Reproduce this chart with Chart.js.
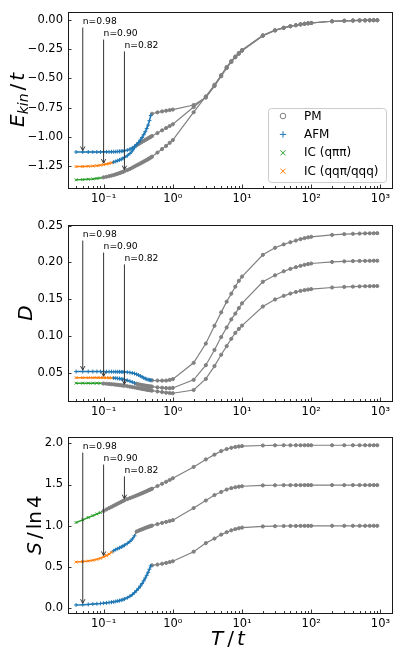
<!DOCTYPE html>
<html>
<head>
<meta charset="utf-8">
<script src="https://cdn.jsdelivr.net/npm/chart.js@4.4.0/dist/chart.umd.min.js"></script>
<style>
  html, body { margin: 0; padding: 0; background: #fff; }
  #wrap { position: relative; width: 399px; height: 657px; overflow: hidden; }
  canvas { position: absolute; left: 0; }
</style>
</head>
<body>
<div id="wrap">
  <canvas id="ekin" width="399" height="213" style="top:0"></canvas>
  <canvas id="dbl" width="399" height="212" style="top:213px"></canvas>
  <canvas id="ent" width="399" height="232" style="top:425px"></canvas>
</div>
<script>
// temperatures T/t, shared by all curves
const temps = [0.04,0.05,0.06,0.07,0.08,0.09,0.10,0.11,0.12,0.13,0.14,0.15,0.16,0.17,0.18,0.19,0.20,
  0.22,0.24,0.26,0.28,0.30,0.32,0.34,0.36,0.38,0.40,0.42,0.44,0.46,0.48,0.50,
  0.6,0.7,0.8,0.9,1,
  2,3,4,5,6,7,8,9,10,
  20,30,40,50,60,70,80,90,100,
  200,300,400,500,600,700,800,900];

// kinetic energy E_kin/t
const ekin098 = [-1.130,-1.130,-1.130,-1.130,-1.130,-1.130,-1.129,-1.129,-1.129,-1.128,-1.128,-1.127,-1.126,-1.125,-1.124,-1.122,-1.120,
  -1.114,-1.106,-1.095,-1.082,-1.066,-1.048,-1.028,-1.006,-0.982,-0.957,-0.930,-0.900,-0.862,-0.818,-0.803,
  -0.791,-0.783,-0.777,-0.772,-0.767,
  -0.728,-0.665,-0.566,-0.482,-0.412,-0.360,-0.320,-0.290,-0.264,
  -0.136,-0.091,-0.069,-0.055,-0.046,-0.039,-0.034,-0.030,-0.027,
  -0.012,-0.008,-0.006,-0.005,-0.004,-0.004,-0.003,-0.003];
const ekin090 = [-1.255,-1.254,-1.252,-1.250,-1.247,-1.243,-1.238,-1.233,-1.228,-1.222,-1.216,-1.210,-1.204,-1.198,-1.192,-1.185,-1.178,
  -1.162,-1.143,-1.120,-1.094,-1.073,-1.062,-1.052,-1.043,-1.035,-1.027,-1.020,-1.013,-1.006,-1.000,-0.994,
  -0.968,-0.945,-0.925,-0.908,-0.893,
  -0.745,-0.660,-0.563,-0.480,-0.410,-0.358,-0.318,-0.288,-0.262,
  -0.135,-0.090,-0.069,-0.055,-0.046,-0.039,-0.034,-0.030,-0.027,
  -0.012,-0.008,-0.006,-0.005,-0.004,-0.004,-0.003,-0.003];
const ekin082 = [-1.368,-1.366,-1.363,-1.360,-1.356,-1.352,-1.347,-1.342,-1.337,-1.332,-1.327,-1.321,-1.316,-1.310,-1.305,-1.300,-1.294,
  -1.285,-1.275,-1.264,-1.254,-1.244,-1.236,-1.228,-1.220,-1.212,-1.205,-1.198,-1.191,-1.184,-1.177,-1.170,
  -1.135,-1.105,-1.078,-1.052,-1.028,
  -0.790,-0.655,-0.555,-0.472,-0.403,-0.352,-0.313,-0.283,-0.258,
  -0.132,-0.088,-0.067,-0.054,-0.045,-0.038,-0.033,-0.029,-0.026,
  -0.012,-0.008,-0.006,-0.005,-0.004,-0.003,-0.003,-0.003];

// double occupancy D
const dbl098 = [0.0513,0.0513,0.0513,0.0513,0.0513,0.0513,0.0513,0.0512,0.0512,0.0512,0.0511,0.0511,0.0510,0.0510,0.0509,0.0508,0.0507,
  0.0504,0.0500,0.0494,0.0486,0.0476,0.0465,0.0452,0.0440,0.0428,0.0417,0.0409,0.0403,0.0399,0.0396,0.0394,
  0.0391,0.0390,0.0391,0.0399,0.0410,
  0.0632,0.0895,0.1137,0.1320,0.1466,0.1575,0.1670,0.1750,0.1808,
  0.2104,0.2200,0.2246,0.2276,0.2299,0.2318,0.2332,0.2342,0.2350,
  0.2376,0.2386,0.2391,0.2394,0.2396,0.2397,0.2398,0.2399];
const dbl090 = [0.0430,0.0430,0.0430,0.0430,0.0430,0.0430,0.0429,0.0429,0.0428,0.0427,0.0425,0.0423,0.0420,0.0417,0.0413,0.0409,0.0404,
  0.0394,0.0382,0.0369,0.0357,0.0347,0.0340,0.0334,0.0329,0.0325,0.0321,0.0318,0.0315,0.0312,0.0310,0.0308,
  0.0299,0.0293,0.0289,0.0287,0.0290,
  0.0400,0.0600,0.0808,0.0983,0.1114,0.1224,0.1303,0.1378,0.1443,
  0.1737,0.1825,0.1880,0.1913,0.1936,0.1954,0.1968,0.1978,0.1986,
  0.2007,0.2015,0.2019,0.2021,0.2022,0.2023,0.2024,0.2024];
const dbl082 = [0.0355,0.0355,0.0355,0.0355,0.0355,0.0354,0.0350,0.0347,0.0344,0.0341,0.0338,0.0335,0.0332,0.0329,0.0326,0.0323,0.0320,
  0.0314,0.0308,0.0302,0.0297,0.0292,0.0287,0.0282,0.0278,0.0274,0.0270,0.0266,0.0263,0.0260,0.0257,0.0254,
  0.0242,0.0233,0.0226,0.0221,0.0218,
  0.0262,0.0413,0.0588,0.0742,0.0860,0.0960,0.1040,0.1095,0.1140,
  0.1400,0.1496,0.1545,0.1576,0.1598,0.1612,0.1623,0.1631,0.1637,
  0.1659,0.1667,0.1671,0.1674,0.1676,0.1677,0.1678,0.1679];

// entropy S/ln4 (curves offset by 0.5 for clarity, as in the figure)
const ent098 = [0.040,0.043,0.047,0.051,0.055,0.058,0.062,0.066,0.070,0.074,0.078,0.083,0.088,0.093,0.099,0.105,0.112,
  0.128,0.146,0.166,0.190,0.215,0.242,0.270,0.300,0.333,0.366,0.400,0.436,0.474,0.514,0.520,
  0.530,0.540,0.550,0.560,0.570,
  0.686,0.790,0.845,0.893,0.922,0.945,0.960,0.970,0.978,
  0.992,0.995,0.997,0.998,0.998,0.999,0.999,0.999,0.999,
  1.000,1.000,1.000,1.000,1.000,1.000,1.000,1.000];
const ent090 = [0.560,0.566,0.573,0.582,0.593,0.606,0.622,0.640,0.658,0.678,0.698,0.712,0.723,0.733,0.743,0.753,0.764,
  0.786,0.810,0.840,0.878,0.930,0.940,0.950,0.958,0.966,0.973,0.980,0.986,0.992,0.997,1.002,
  1.020,1.035,1.047,1.058,1.068,
  1.215,1.306,1.372,1.410,1.439,1.456,1.467,1.474,1.479,
  1.489,1.491,1.492,1.492,1.492,1.493,1.493,1.493,1.493,
  1.493,1.493,1.493,1.493,1.493,1.493,1.493,1.493];
const ent082 = [1.039,1.072,1.100,1.123,1.143,1.160,1.180,1.198,1.214,1.229,1.243,1.256,1.268,1.279,1.290,1.300,1.310,
  1.323,1.335,1.346,1.357,1.367,1.377,1.386,1.395,1.404,1.412,1.420,1.428,1.435,1.442,1.449,
  1.482,1.509,1.533,1.555,1.576,
  1.713,1.804,1.862,1.905,1.930,1.945,1.955,1.961,1.966,
  1.973,1.975,1.976,1.976,1.976,1.976,1.976,1.976,1.976,
  1.976,1.976,1.976,1.976,1.976,1.976,1.976,1.976];

// phase of each curve: [phase, last T of that phase]
const phases098 = [['AFM', 0.48], ['PM', 900]];
const phases090 = [['ICqqp', 0.13], ['AFM', 0.28], ['PM', 900]];
const phases082 = [['ICqpp', 0.09], ['PM', 900]];
const curvePhases = [phases098, phases090, phases082];

const densityLabels = ['n=0.98', 'n=0.90', 'n=0.82'];
const arrowTemps = [0.05, 0.1, 0.2];
const legendLabels = ['PM', 'AFM', 'IC (q\u03c0\u03c0)', 'IC (qq\u03c0/qqq)'];
const legendKeys = ['PM', 'AFM', 'ICqpp', 'ICqqp'];

const xMajor = [0.1, 1, 10, 100, 1000];
const yTicksE = [0, -0.25, -0.5, -0.75, -1.0, -1.25];
const yTicksD = [0.05, 0.10, 0.15, 0.20, 0.25];
const yTicksS = [0.0, 0.5, 1.0, 1.5, 2.0];

const X_MIN = 0.0306, X_MAX = 1469;
const GREY = '#808080';
const STYLE = {
  PM:    { color: GREY,      point: 'circle',   radius: 1.6 },
  AFM:   { color: '#1f77b4', point: 'cross',    radius: 2.0 },
  ICqpp: { color: '#2ca02c', point: 'crossRot', radius: 2.0 },
  ICqqp: { color: '#ff7f0e', point: 'crossRot', radius: 2.0 }
};
const FONT = '"DejaVu Sans", sans-serif';

function curveDatasets(vals, phases) {
  const out = [];
  let start = 0;
  phases.forEach(([key, lastT]) => {
    const end = temps.indexOf(lastT);
    const from = start > 0 ? start - 1 : 0;   // join to the previous segment
    const pts = [];
    for (let i = from; i <= end; i++) pts.push({ x: temps[i], y: vals[i] });
    const st = STYLE[key];
    const skipFirst = from < start;
    out.push({
      data: pts,
      showLine: true,
      borderColor: st.color,
      backgroundColor: st.color,
      borderWidth: key === 'PM' ? 1.2 : 1.5,
      pointStyle: st.point,
      pointRadius: (c) => (skipFirst && c.dataIndex === 0) ? 0 : st.radius,
      pointBorderWidth: 1,
      pointBorderColor: st.color,
      pointBackgroundColor: st.color,
      pointHoverRadius: 0,
      tension: 0,
      order: key === 'PM' ? 1 : 0
    });
    start = end + 1;
  });
  return out;
}

function drawParts(ctx, parts, x, y, rotate) {
  let w = 0;
  parts.forEach(p => { ctx.font = p.font; w += ctx.measureText(p.t).width + (p.gap || 0); });
  ctx.save();
  ctx.translate(x, y);
  if (rotate) ctx.rotate(-Math.PI / 2);
  ctx.fillStyle = '#000';
  ctx.textBaseline = 'alphabetic';
  ctx.textAlign = 'left';
  let cx = -w / 2;
  parts.forEach(p => {
    ctx.font = p.font;
    ctx.fillText(p.t, cx, p.dy || 0);
    cx += ctx.measureText(p.t).width + (p.gap || 0);
  });
  ctx.restore();
}

function drawMarker(ctx, key, x, y, r) {
  ctx.save();
  ctx.strokeStyle = STYLE[key].color;
  ctx.lineWidth = 1;
  ctx.beginPath();
  if (key === 'PM') {
    ctx.arc(x, y, r, 0, Math.PI * 2);
  } else if (key === 'AFM') {
    ctx.moveTo(x - r, y); ctx.lineTo(x + r, y);
    ctx.moveTo(x, y - r); ctx.lineTo(x, y + r);
  } else {
    const d = r * 0.8;
    ctx.moveTo(x - d, y - d); ctx.lineTo(x + d, y + d);
    ctx.moveTo(x - d, y + d); ctx.lineTo(x + d, y - d);
  }
  ctx.stroke();
  ctx.restore();
}

function makeDeco(cfg) {
  return {
    id: 'deco',
    afterDraw(chart) {
      const ctx = chart.ctx;
      const a = chart.chartArea;
      const xs = chart.scales.x, ys = chart.scales.y;
      ctx.save();
      // inward ticks
      ctx.strokeStyle = '#000';
      ctx.lineWidth = 0.8;
      ctx.beginPath();
      for (let e = -2; e <= 3; e++) {
        for (let m = 1; m <= 9; m++) {
          const v = m * Math.pow(10, e);
          if (v < X_MIN || v > X_MAX) continue;
          const px = Math.round(xs.getPixelForValue(v)) + 0.5;
          const len = m === 1 ? 3.5 : 2;
          ctx.moveTo(px, a.bottom); ctx.lineTo(px, a.bottom - len);
        }
      }
      cfg.yTicks.forEach(v => {
        const py = Math.round(ys.getPixelForValue(v)) + 0.5;
        ctx.moveTo(a.left, py); ctx.lineTo(a.left + 3.5, py);
      });
      ctx.stroke();
      // frame
      ctx.lineWidth = 1;
      ctx.strokeStyle = '#1a1a1a';
      ctx.strokeRect(Math.round(a.left) + 0.5, Math.round(a.top) + 0.5,
        Math.round(a.right - a.left), Math.round(a.bottom - a.top));

      // density annotations with arrows
      const textFrac = [0.945, 0.877, 0.81];
      densityLabels.forEach((lab, k) => {
        const t = arrowTemps[k];
        const px = xs.getPixelForValue(t);
        const val = cfg.series[k][temps.indexOf(t)];
        const tipY = ys.getPixelForValue(val) - 1.5;
        const ty = a.top + (1 - textFrac[k]) * (a.bottom - a.top);
        ctx.fillStyle = '#000';
        ctx.font = '9.2px ' + FONT;
        ctx.textBaseline = 'middle';
        ctx.textAlign = 'left';
        ctx.fillText(lab, px, ty);
        ctx.strokeStyle = '#333';
        ctx.lineWidth = 1;
        ctx.beginPath();
        ctx.moveTo(px, ty + 6);
        ctx.lineTo(px, tipY);
        ctx.moveTo(px - 2.2, tipY - 4);
        ctx.lineTo(px, tipY);
        ctx.lineTo(px + 2.2, tipY - 4);
        ctx.stroke();
      });

      // axis titles
      drawParts(ctx, cfg.yTitle.parts, cfg.yTitle.x, (a.top + a.bottom) / 2, true);
      if (cfg.xTitle) drawParts(ctx, cfg.xTitle.parts, (a.left + a.right) / 2 - 2, cfg.xTitle.y, false);

      // legend
      if (cfg.legend) {
        const L = cfg.legend;
        ctx.beginPath();
        ctx.roundRect(L.x + 0.5, L.y + 0.5, L.w, L.h, 3);
        ctx.fillStyle = 'rgba(255,255,255,0.85)';
        ctx.fill();
        ctx.strokeStyle = '#cccccc';
        ctx.lineWidth = 1;
        ctx.stroke();
        legendLabels.forEach((lab, i) => {
          const ry = L.y + 8 + i * 18.4;
          drawMarker(ctx, legendKeys[i], L.x + 15, ry, legendKeys[i] === 'PM' ? 2.8 : 3.2);
          ctx.fillStyle = '#000';
          ctx.font = '12px ' + FONT;
          ctx.textBaseline = 'middle';
          ctx.textAlign = 'left';
          ctx.fillText(lab, L.x + 36, ry + 0.5);
        });
      }
      ctx.restore();
    }
  };
}

const SUP = { '-': '\u207b', '0': '\u2070', '1': '\u00b9', '2': '\u00b2', '3': '\u00b3' };
function decadeLabel(v) {
  const e = Math.round(Math.log10(v));
  return '10' + String(e).split('').map(c => SUP[c]).join('');
}

function makePanel(id, cfg) {
  const datasets = [];
  cfg.series.forEach((vals, k) => datasets.push(...curveDatasets(vals, curvePhases[k])));
  new Chart(document.getElementById(id), {
    type: 'scatter',
    data: { datasets },
    options: {
      responsive: false,
      animation: false,
      events: [],
      layout: { padding: { top: 6, right: 7, left: 0, bottom: 0 } },
      plugins: { legend: { display: false }, tooltip: { enabled: false } },
      scales: {
        x: {
          type: 'logarithmic',
          min: X_MIN,
          max: X_MAX,
          grid: { display: false, drawTicks: false },
          border: { display: false },
          ticks: {
            autoSkip: false, maxRotation: 0, padding: 4, color: '#000',
            font: { family: FONT, size: 11.5 },
            callback: (v) => decadeLabel(v)
          },
          afterBuildTicks: (axis) => { axis.ticks = xMajor.map(v => ({ value: v })); },
          afterFit: (axis) => { axis.height = cfg.xHeight; }
        },
        y: {
          type: 'linear',
          min: cfg.yMin,
          max: cfg.yMax,
          grid: { display: false, drawTicks: false },
          border: { display: false },
          ticks: {
            padding: 5, color: '#000',
            font: { family: FONT, size: 11.5 },
            callback: (v) => v.toFixed(cfg.decimals).replace('-', '\u2212')
          },
          afterBuildTicks: (axis) => { axis.ticks = cfg.yTicks.map(v => ({ value: v })); },
          afterFit: (axis) => { axis.width = 68; }
        }
      }
    },
    plugins: [makeDeco(cfg)]
  });
}

const IT = 'italic 20px ' + FONT;
const RM = '20px ' + FONT;

makePanel('ekin', {
  series: [ekin098, ekin090, ekin082],
  yMin: -1.438, yMax: 0.068, yTicks: yTicksE, decimals: 2, xHeight: 25,
  yTitle: { x: 23.5, parts: [
    { t: 'E', font: IT },
    { t: 'kin', font: 'italic 14px ' + FONT, dy: 4, gap: 3 },
    { t: '/', font: RM, gap: 3 },
    { t: 't', font: IT }
  ] },
  legend: { x: 268, y: 108, w: 118, h: 74 }
});

makePanel('dbl', {
  series: [dbl098, dbl090, dbl082],
  yMin: 0.0112, yMax: 0.2512, yTicks: yTicksD, decimals: 2, xHeight: 24,
  yTitle: { x: 31.5, parts: [{ t: 'D', font: IT }] }
});

makePanel('ent', {
  series: [ent098, ent090, ent082],
  yMin: -0.057, yMax: 2.077, yTicks: yTicksS, decimals: 1, xHeight: 44,
  yTitle: { x: 40.5, parts: [
    { t: 'S', font: IT, gap: 3 },
    { t: '/', font: RM, gap: 3 },
    { t: 'ln', font: RM, gap: 3 },
    { t: '4', font: RM }
  ] },
  xTitle: { y: 220, parts: [
    { t: 'T', font: IT, gap: 4 },
    { t: '/', font: RM, gap: 3 },
    { t: 't', font: IT }
  ] }
});
</script>
</body>
</html>
